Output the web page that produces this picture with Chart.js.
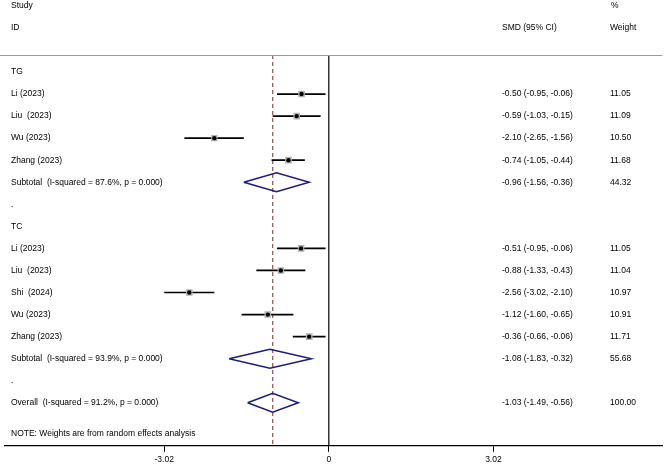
<!DOCTYPE html>
<html>
<head>
    <meta charset="utf-8">
    <title>Forest plot</title>
    <script src="https://cdn.jsdelivr.net/npm/chart.js"></script>
    <style>
        body {
            margin: 0;
            background: #fff;
        }
        #wrap {
            width: 667px;
            height: 466px;
            position: relative;
        }
    </style>
</head>
<body>
<div id="wrap"><canvas id="forest"></canvas></div>

<script>
// left column text, one entry per row (row 0 = "TG")
const rowLabels = [
    'TG', 'Li (2023)', 'Liu  (2023)', 'Wu (2023)', 'Zhang (2023)',
    'Subtotal  (I-squared = 87.6%, p = 0.000)', '.',
    'TC', 'Li (2023)', 'Liu  (2023)', 'Shi  (2024)', 'Wu (2023)', 'Zhang (2023)',
    'Subtotal  (I-squared = 93.9%, p = 0.000)', '.',
    'Overall  (I-squared = 91.2%, p = 0.000)'
];

// single studies
const studyRow = [1, 2, 3, 4, 8, 9, 10, 11, 12];
const studySmd = [-0.50, -0.59, -2.10, -0.74, -0.51, -0.88, -2.56, -1.12, -0.36];
const studyLo = [-0.95, -1.03, -2.65, -1.05, -0.95, -1.33, -3.02, -1.60, -0.66];
const studyHi = [-0.06, -0.15, -1.56, -0.44, -0.06, -0.43, -2.10, -0.65, -0.06];
const studyWeight = [11.05, 11.09, 10.50, 11.68, 11.05, 11.04, 10.97, 10.91, 11.71];

// pooled estimates (subtotals + overall)
const pooledRow = [5, 13, 15];
const pooledSmd = [-0.96, -1.08, -1.03];
const pooledLo = [-1.56, -1.83, -1.49];
const pooledHi = [-0.36, -0.32, -0.56];
const pooledWeight = [44.32, 55.68, 100.00];

const tickValues = [-3.02, 0, 3.02];
const tickLabels = ['-3.02', '0', '3.02'];

const noteText = 'NOTE: Weights are from random effects analysis';
const noteRow = 16.4;

const yTop = -0.77, yBottom = 16.95;
const fontFam = '"Liberation Sans", Arial, sans-serif';
const fmt = v => v.toFixed(2);

const datasets = [];

// point estimates (order 0 = drawn last, on top)
datasets.push({
    type: 'scatter',
    order: 0,
    data: studyRow.map((r, i) => ({x: studySmd[i], y: r})),
    pointStyle: 'circle',
    pointRadius: 2.2,
    backgroundColor: '#000', borderWidth: 0
});
// weight boxes
datasets.push({
    type: 'scatter',
    order: 1,
    data: studyRow.map((r, i) => ({x: studySmd[i], y: r})),
    pointStyle: 'rect',
    pointRadius: studyWeight.map(w => Math.sqrt(w) * 1.4),
    backgroundColor: '#b4b4b4', borderWidth: 0
});

// confidence intervals
studyRow.forEach((r, i) => {
    datasets.push({
        type: 'line',
        order: 2,
        data: [{x: studyLo[i], y: r}, {x: studyHi[i], y: r}],
        borderColor: '#000', borderWidth: 1.7, pointRadius: 0
    });
});

// pooled diamonds
pooledRow.forEach((r, i) => {
    datasets.push({
        type: 'line',
        order: 2,
        data: [
            {x: pooledLo[i], y: r},
            {x: pooledSmd[i], y: r - 0.43},
            {x: pooledHi[i], y: r},
            {x: pooledSmd[i], y: r + 0.43},
            {x: pooledLo[i], y: r}
        ],
        borderColor: '#1c1c7c', borderWidth: 1.5, pointRadius: 0, tension: 0, fill: false
    });
});

// reference lines
datasets.push({
    type: 'line',
    order: 3,
    data: [{x: pooledSmd[2], y: yTop}, {x: pooledSmd[2], y: yBottom}],
    borderColor: '#a05a5a', borderWidth: 1.3, borderDash: [4, 3], pointRadius: 0, clip: false
});
datasets.push({
    type: 'line',
    order: 3,
    data: [{x: 0, y: yTop}, {x: 0, y: yBottom}],
    borderColor: '#000', borderWidth: 1.2, pointRadius: 0, clip: false
});

// table text and header rule
const tablePlugin = {
    id: 'tableText',
    afterDraw(chart) {
        const ctx = chart.ctx;
        const ys = chart.scales.y;
        const area = chart.chartArea;
        const colLeft = 11, colSmd = 502, colW = 610;
        ctx.save();
        ctx.strokeStyle = '#9a9a9a';
        ctx.lineWidth = 1;
        ctx.beginPath();
        ctx.moveTo(0, area.top + 0.5);
        ctx.lineTo(area.right, area.top + 0.5);
        ctx.stroke();

        ctx.fillStyle = '#000';
        ctx.font = '8.5px ' + fontFam;
        ctx.textBaseline = 'middle';
        ctx.textAlign = 'left';
        const put = (t, x, row) => ctx.fillText(t, x, ys.getPixelForValue(row));

        put('Study', colLeft, -3);
        put('ID', colLeft, -2);
        put('SMD (95% CI)', colSmd, -2);
        put('%', colW + 1, -3);
        put('Weight', colW, -2);

        rowLabels.forEach((t, r) => put(t, colLeft, r));
        studyRow.forEach((r, i) => {
            put(fmt(studySmd[i]) + ' (' + fmt(studyLo[i]) + ', ' + fmt(studyHi[i]) + ')', colSmd, r);
            put(fmt(studyWeight[i]), colW, r);
        });
        pooledRow.forEach((r, i) => {
            put(fmt(pooledSmd[i]) + ' (' + fmt(pooledLo[i]) + ', ' + fmt(pooledHi[i]) + ')', colSmd, r);
            put(fmt(pooledWeight[i]), colW, r);
        });
        put(noteText, colLeft, noteRow);
        ctx.restore();
    }
};

new Chart(document.getElementById('forest'), {
    type: 'scatter',
    data: {datasets: datasets},
    options: {
        responsive: true,
        maintainAspectRatio: false,
        animation: false,
        layout: {padding: {left: 3, right: 3, top: 55, bottom: -2}},
        plugins: {
            legend: {display: false},
            tooltip: {enabled: false}
        },
        scales: {
            x: {
                type: 'linear',
                min: -5.945,
                max: 6.117,
                afterBuildTicks: s => { s.ticks = tickValues.map(v => ({value: v})); },
                ticks: {
                    autoSkip: false,
                    maxRotation: 0,
                    padding: 3,
                    color: '#000',
                    font: {family: fontFam, size: 8.5},
                    callback: (v, i) => tickLabels[i]
                },
                grid: {drawOnChartArea: false, drawTicks: true, tickLength: 6, color: '#000', lineWidth: 1},
                border: {display: true, color: '#000', width: 1.2}
            },
            y: {
                type: 'linear',
                display: false,
                reverse: true,
                min: yTop,
                max: yBottom
            }
        }
    },
    plugins: [tablePlugin]
});
</script>
</body>
</html>
